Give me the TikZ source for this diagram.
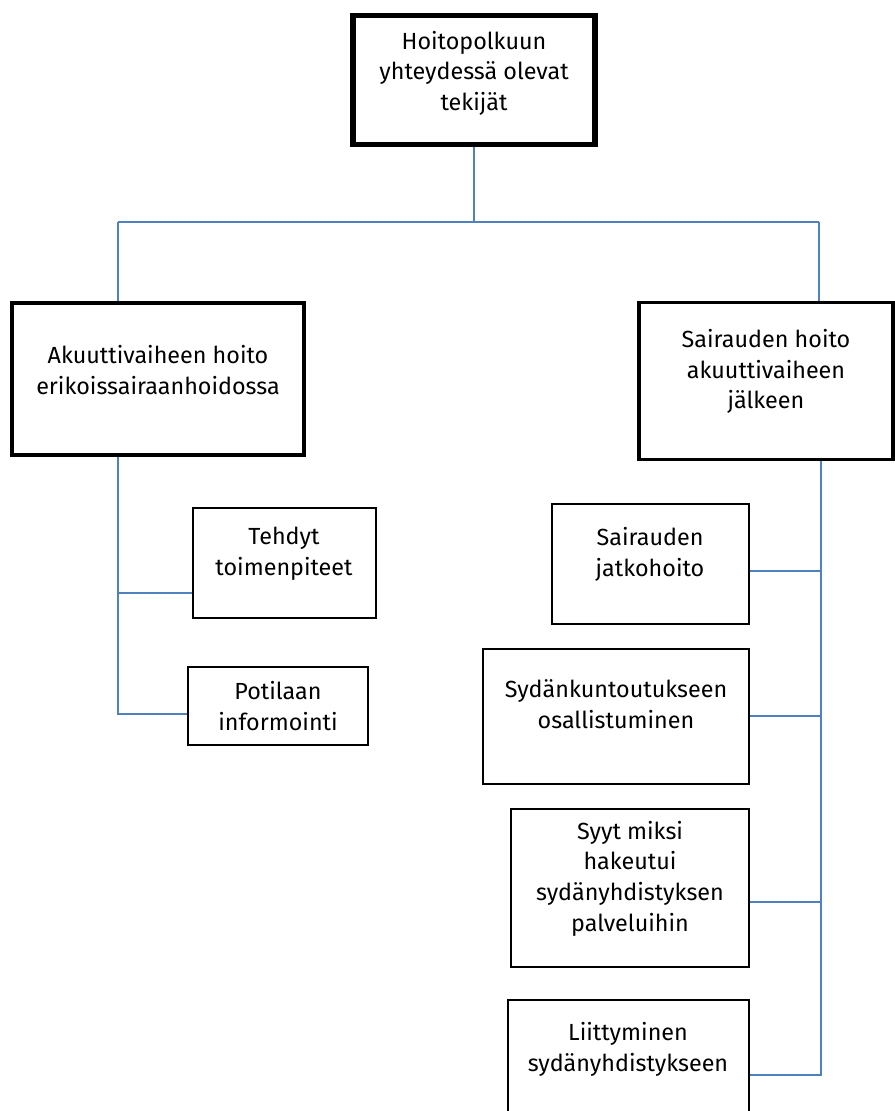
\documentclass[tikz,border=0pt]{standalone}
\usepackage{fontspec}
\setmainfont{Fira Sans}
\usetikzlibrary{calc}
\definecolor{linkblue}{RGB}{79,129,189}

\begin{document}
\begin{tikzpicture}[x=0.75pt, y=-0.75pt,
    box/.style={draw=black, fill=white, rectangle, align=center, inner sep=0pt,
                text depth=18pt, font=\fontsize{17.5}{23}\selectfont},
    link/.style={draw=linkblue, line width=1.1pt}]
  % hoitopolku, puu
  \clip (0,0) rectangle (895,1111);
  \node[box, text depth=14pt, line width=3.8pt, minimum width=242*0.75pt, minimum height=129*0.75pt]
    (root) at (474,80) {Hoitopolkuun\\yhteydessä olevat\\tekijät};
  \node[box, text depth=14pt, line width=2.4pt, minimum width=292*0.75pt, minimum height=152*0.75pt]
    (akuutti) at (158,379) {Akuuttivaiheen hoito\\erikoissairaanhoidossa};
  \node[box, line width=2.4pt, minimum width=254*0.75pt, minimum height=157*0.75pt]
    (jalkeen) at (766,381) {Sairauden hoito\\akuuttivaiheen\\jälkeen};
  \node[box, line width=1.5pt, minimum width=183*0.75pt, minimum height=110*0.75pt]
    (tehdyt) at (284,563) {Tehdyt\\toimenpiteet};
  \node[box, text depth=0pt, line width=1.5pt, minimum width=180*0.75pt, minimum height=78*0.75pt]
    (informointi) at (278,706) {Potilaan\\informointi};
  \node[box, line width=1.5pt, minimum width=197*0.75pt, minimum height=120*0.75pt]
    (jatkohoito) at (650,564) {Sairauden\\jatkohoito};
  \node[box, line width=1.5pt, minimum width=266*0.75pt, minimum height=135*0.75pt]
    (kuntoutus) at (616,716) {Sydänkuntoutukseen\\osallistuminen};
  \node[box, line width=1.5pt, minimum width=238*0.75pt, minimum height=158*0.75pt]
    (syyt) at (630,888) {Syyt miksi\\hakeutui\\sydänyhdistyksen\\palveluihin};
  \node[box, text depth=20pt, line width=1.5pt, minimum width=241*0.75pt, minimum height=120*0.75pt]
    (liittyminen) at (628,1060) {Liittyminen\\sydänyhdistykseen};

  \coordinate (lbus) at (118,222);
  \coordinate (rbus) at (819,222);
  \draw[link] (root.south) -- (root.south |- lbus);
  \draw[link] (lbus) -- (rbus);
  \draw[link] (lbus) -- (lbus |- akuutti.north);
  \draw[link] (rbus) -- (rbus |- jalkeen.north);
  % vasen haara
  \coordinate (tb) at ($(tehdyt.west)+(0,30)$);
  \coordinate (ib) at ($(informointi.west)+(0,8)$);
  \draw[link] (akuutti.south -| lbus) |- (tb);
  \draw[link] (akuutti.south -| lbus) |- (ib);
  % oikea haara
  \coordinate (rtrunk) at (821,0);
  \coordinate (jb) at ($(jatkohoito.east)+(0,7)$);
  \coordinate (sb) at ($(syyt.east)+(0,14)$);
  \coordinate (lb) at ($(liittyminen.east)+(0,15)$);
  \draw[link] (jalkeen.south -| rtrunk) |- (lb);
  \draw[link] (jb) -- (jb -| rtrunk);
  \draw[link] (kuntoutus.east) -- (kuntoutus.east -| rtrunk);
  \draw[link] (sb) -- (sb -| rtrunk);
\end{tikzpicture}
\end{document}
